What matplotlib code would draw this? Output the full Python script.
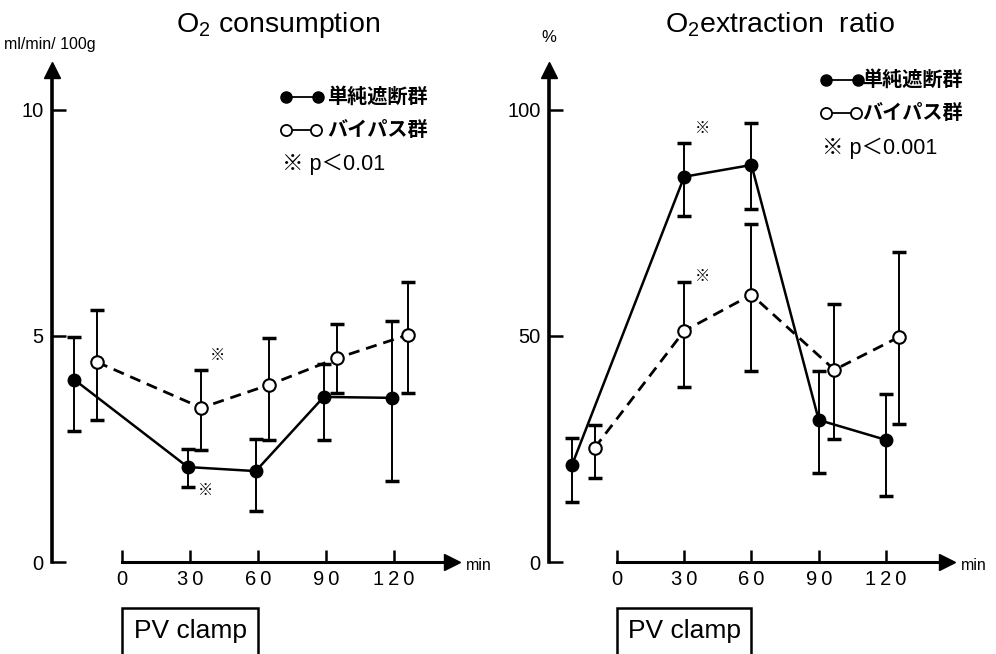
import matplotlib
matplotlib.use('Agg')
import numpy as np
import matplotlib.pyplot as plt
from matplotlib.patches import Rectangle
from matplotlib.lines import Line2D
from matplotlib.transforms import blended_transform_factory

plt.rcParams['font.family'] = ['Liberation Sans', 'Noto Sans CJK JP', 'DejaVu Sans']
plt.rcParams['mathtext.fontset'] = 'custom'
plt.rcParams['mathtext.rm'] = 'Liberation Sans'

# O2 consumption (ml/min/100g); time in min, baseline plotted before 0
cons_t_simple = [-21, 29, 59, 89, 119]
cons_simple = [4.03, 2.10, 2.01, 3.65, 3.63]
cons_simple_hi = [4.98, 2.50, 2.72, 4.38, 5.33]
cons_simple_lo = [2.90, 1.66, 1.13, 2.70, 1.79]
cons_t_bypass = [-11, 35, 65, 95, 126]
cons_bypass = [4.42, 3.41, 3.92, 4.51, 5.02]
cons_bypass_hi = [5.58, 4.25, 4.96, 5.27, 6.19]
cons_bypass_lo = [3.14, 2.48, 2.70, 3.74, 3.74]
cons_stars = [(42, 4.55), (37, 1.57)]

# O2 extraction ratio (%)
ext_t_simple = [-20, 30, 60, 90, 120]
ext_simple = [21.5, 85.2, 87.8, 31.4, 27.0]
ext_simple_hi = [27.4, 92.7, 97.1, 42.3, 37.2]
ext_simple_lo = [13.3, 76.5, 78.1, 19.7, 14.6]
ext_t_bypass = [-10, 30, 60, 97, 126]
ext_bypass = [25.2, 51.1, 59.1, 42.5, 49.8]
ext_bypass_hi = [30.3, 61.9, 74.8, 57.1, 68.6]
ext_bypass_lo = [18.6, 38.7, 42.3, 27.2, 30.5]
ext_stars = [(38, 95.8), (38, 63.1)]

time_ticks = [0, 30, 60, 90, 120]
clamp_start, clamp_end = 0, 60

W, H = 996, 654
fig = plt.figure(figsize=(W / 100, H / 100), dpi=100)


def fx(x):
    return x / W


def fy(y):
    return 1 - y / H


def draw_panel(ax, yticks, t1, v1, hi1, lo1, t2, v2, hi2, lo2, stars):
    x0, x1 = ax.get_xlim()
    y0, y1 = ax.get_ylim()
    for s in ['top', 'right']:
        ax.spines[s].set_visible(False)
    ax.spines['left'].set_linewidth(2.6)
    ax.spines['left'].set_bounds(0, y1)
    ax.spines['bottom'].set_linewidth(2.2)
    ax.spines['bottom'].set_bounds(0, x1)
    ax.set_xticks(time_ticks)
    ax.set_xticklabels(['\u2009'.join(str(t)) for t in time_ticks])
    ax.set_yticks(yticks)
    ax.tick_params(axis='x', direction='in', length=9, width=1.8, pad=6, labelsize=14.5)
    ax.tick_params(axis='y', direction='in', length=10, width=1.8, pad=6, labelsize=14.5)
    ax.plot([x0], [y1], marker='^', ms=12, color='k', clip_on=False)
    ax.plot([x1], [0], marker='>', ms=12, color='k', clip_on=False)

    v1, hi1, lo1 = np.array(v1), np.array(hi1), np.array(lo1)
    v2, hi2, lo2 = np.array(v2), np.array(hi2), np.array(lo2)
    ax.errorbar(t1, v1, yerr=[v1 - lo1, hi1 - v1], fmt='none', ecolor='k',
                elinewidth=1.4, capsize=5, capthick=2.5, zorder=2)
    ax.errorbar(t2, v2, yerr=[v2 - lo2, hi2 - v2], fmt='none', ecolor='k',
                elinewidth=1.4, capsize=5, capthick=2.5, zorder=2)
    ax.plot(t1, v1, '-', color='k', lw=1.8, marker='o', ms=9, mfc='k', zorder=3)
    ax.plot(t2, v2, color='k', lw=2, ls=(0, (4, 2.5)), marker='o', ms=9,
            mfc='white', mec='k', mew=1.5, zorder=4)
    for sx, sy in stars:
        ax.text(sx, sy, '※', ha='center', va='center', fontsize=11)

    trans = blended_transform_factory(ax.transData, fig.transFigure)
    ax.add_patch(Rectangle((clamp_start, fy(662)), clamp_end - clamp_start,
                           fy(608) - fy(662), transform=trans, fill=False,
                           lw=1.8, ec='k', clip_on=False))
    ax.text((clamp_start + clamp_end) / 2, fy(631), 'PV clamp', transform=trans,
            ha='center', va='center', fontsize=19)


ax1 = fig.add_axes([fx(52), fy(562), (452 - 52) / W, (562 - 70) / H])
ax1.set_xlim(-30.9, 145.6)
ax1.set_ylim(0, 10.88)
draw_panel(ax1, [0, 5, 10], cons_t_simple, cons_simple, cons_simple_hi, cons_simple_lo,
           cons_t_bypass, cons_bypass, cons_bypass_hi, cons_bypass_lo, cons_stars)

ax2 = fig.add_axes([fx(549), fy(562), (947 - 549) / W, (562 - 70) / H])
ax2.set_xlim(-30.3, 147.2)
ax2.set_ylim(0, 108.8)
draw_panel(ax2, [0, 50, 100], ext_t_simple, ext_simple, ext_simple_hi, ext_simple_lo,
           ext_t_bypass, ext_bypass, ext_bypass_hi, ext_bypass_lo, ext_stars)

# titles and unit labels
fig.text(fx(278), fy(25), r'O$_\mathrm{2}$ consumption', ha='center', va='center', fontsize=20.5)
fig.text(fx(780), fy(25), r'O$_\mathrm{2}$extraction  ratio', ha='center', va='center', fontsize=20.5)
fig.text(fx(4), fy(44), 'ml/min/ 100g', ha='left', va='center', fontsize=11.5)
fig.text(fx(549), fy(38), '%', ha='center', va='center', fontsize=12)
fig.text(fx(466), fy(566), 'min', ha='left', va='center', fontsize=11.5)
fig.text(fx(961), fy(566), 'min', ha='left', va='center', fontsize=11.5)


# legends
def legend_block(x, y_rows, text_x, p_text):
    fig.add_artist(Line2D([fx(x), fx(x + 32)], [fy(y_rows[0])] * 2, transform=fig.transFigure,
                          color='k', lw=1.3, marker='o', ms=8, mfc='k', mec='k'))
    fig.add_artist(Line2D([fx(x), fx(x + 30)], [fy(y_rows[1])] * 2, transform=fig.transFigure,
                          color='k', lw=1.3, marker='o', ms=8, mfc='white', mec='k', mew=1.3))
    fig.text(fx(text_x), fy(y_rows[0]), '単純遮断群', ha='left', va='center',
             fontsize=14.5, fontweight='bold')
    fig.text(fx(text_x), fy(y_rows[1]), 'バイパス群', ha='left', va='center',
             fontsize=14.5, fontweight='bold')
    fig.text(fx(x - 4), fy(y_rows[2]), p_text, ha='left', va='center', fontsize=15.5)


legend_block(286, [97, 130, 164], 327, '※ p＜0.01')
legend_block(826, [80, 113, 148], 862, '※ p＜0.001')

fig.savefig('out.png', dpi=100)
